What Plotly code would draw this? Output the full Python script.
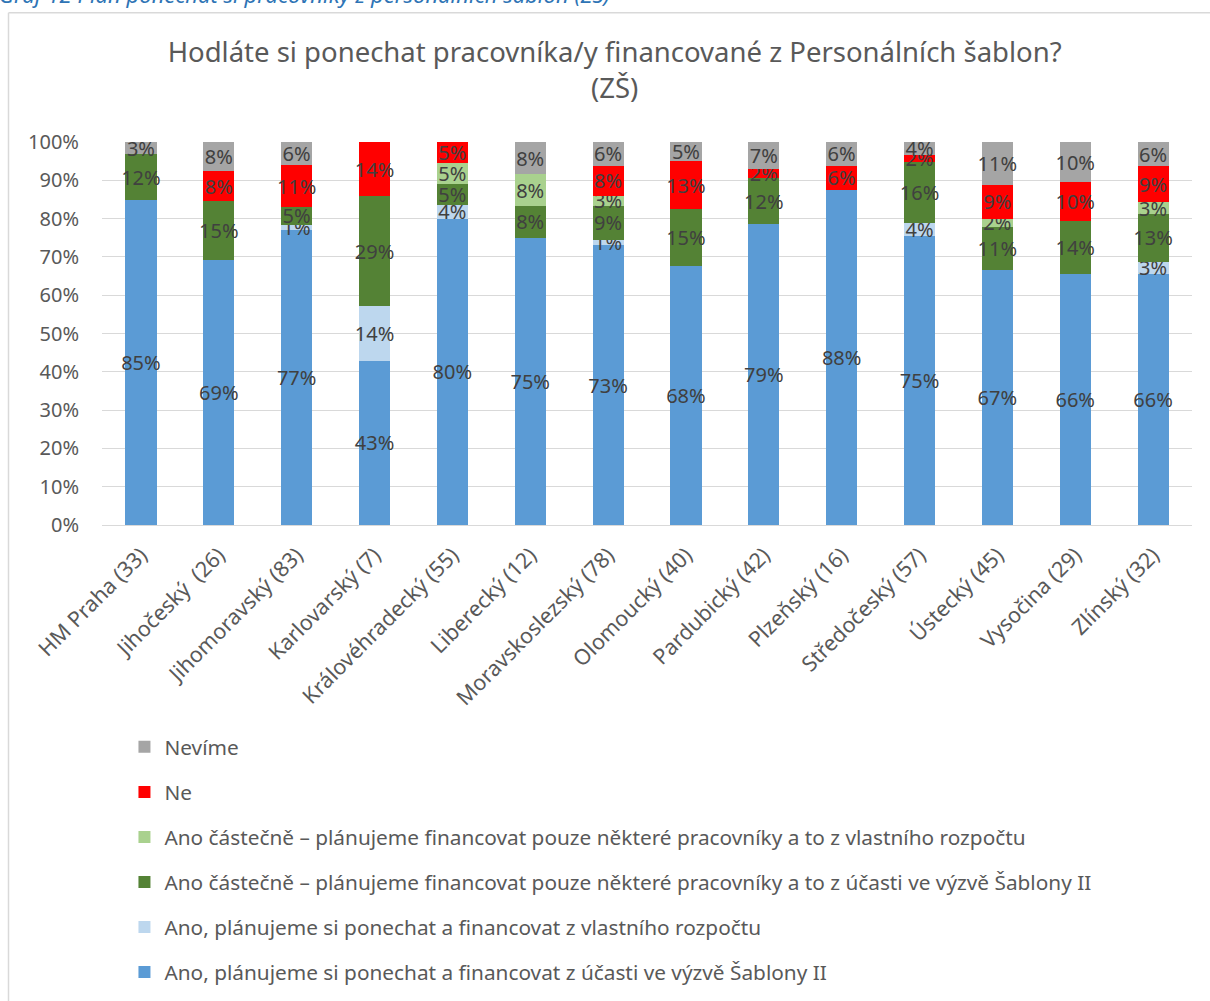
import plotly.graph_objects as go

kraje = ['HM Praha (33)', 'Jihočeský  (26)', 'Jihomoravský (83)', 'Karlovarský (7)',
         'Královéhradecký (55)', 'Liberecký (12)', 'Moravskoslezský (78)', 'Olomoucký (40)',
         'Pardubický (42)', 'Plzeňský (16)', 'Středočeský (57)', 'Ústecký (45)',
         'Vysočina (29)', 'Zlínský (32)']

# podíly v %, None = bez odpovědi
ano_sablony = [84.8, 69.2, 77.1, 42.9, 80.0, 75.0, 73.1, 67.5, 78.6, 87.5, 75.4, 66.7, 65.5, 65.6]
ano_vlastni = [None, None, 1.2, 14.3, 3.6, None, 1.3, None, None, None, 3.5, None, None, 3.1]
cast_sablony = [12.1, 15.4, 4.8, 28.6, 5.45, 8.3, 9.0, 15.0, 11.9, None, 15.8, 11.1, 13.8, 12.5]
cast_vlastni = [None, None, None, None, 5.45, 8.3, 2.6, None, None, None, None, 2.2, None, 3.1]
ne = [None, 7.7, 10.8, 14.3, 5.45, None, 7.7, 12.5, 2.4, 6.25, 1.8, 8.9, 10.3, 9.4]
nevime = [3.0, 7.7, 6.0, None, None, 8.3, 6.4, 5.0, 7.1, 6.25, 3.5, 11.1, 10.3, 6.25]

serie = [
    ('Ano, plánujeme si ponechat a financovat z účasti ve výzvě Šablony II', ano_sablony, '#5b9bd5'),
    ('Ano, plánujeme si ponechat a financovat z vlastního rozpočtu', ano_vlastni, '#bdd7ee'),
    ('Ano částečně – plánujeme financovat pouze některé pracovníky a to z účasti ve výzvě Šablony II', cast_sablony, '#548235'),
    ('Ano částečně – plánujeme financovat pouze některé pracovníky a to z vlastního rozpočtu', cast_vlastni, '#a9d18e'),
    ('Ne', ne, '#ff0000'),
    ('Nevíme', nevime, '#a5a5a5'),
]

font = 'Noto Sans'
fig = go.Figure()
for i, (nazev, hodnoty, barva) in enumerate(serie):
    fig.add_trace(go.Bar(
        x=kraje, y=hodnoty, name=nazev, legendgroup=str(i), legendrank=1000 - i,
        marker=dict(color=barva, line=dict(width=0)),
        texttemplate='%{y:.0f}%', textposition='inside', insidetextanchor='middle',
        constraintext='none', textangle=0,
        textfont=dict(family=font, size=20, color='#404040'),
        hoverinfo='skip',
    ))

fig.update_layout(
    barmode='stack', bargap=0.6,
    width=1210, height=1001,
    margin=dict(l=102, r=18, t=141.5, b=475.5, autoexpand=False),
    paper_bgcolor='white', plot_bgcolor='white',
    font=dict(family=font, color='#595959'),
    uniformtext=dict(minsize=20, mode='show'),
    title=dict(text='Hodláte si ponechat pracovníka/y financované z Personálních šablon?<br>(ZŠ)',
               x=0.508, xanchor='center', yref='container', y=1 - 62 / 1001, yanchor='middle',
               font=dict(size=27.5, color='#595959', family=font)),
    legend=dict(orientation='v', traceorder='grouped', tracegroupgap=15.0,
                x=0.0206, xanchor='left', y=-0.527, yanchor='top',
                font=dict(size=20.8, color='#595959', family=font),
                itemclick=False),
    showlegend=True,
)
fig.update_yaxes(range=[0, 100], tickvals=list(range(0, 101, 10)),
                 ticktext=[f'{v}%' for v in range(0, 101, 10)],
                 showgrid=True, gridcolor='#d9d9d9', gridwidth=1, automargin=False,
                 zeroline=False, showline=False, ticks='', ticklen=0, ticklabelstandoff=22,
                 tickfont=dict(size=20, color='#595959'))
fig.update_xaxes(tickangle=-45, showline=True, linecolor='#d9d9d9', linewidth=1,
                 ticks='', automargin=False, ticklabelstandoff=8,
                 tickfont=dict(size=21.5, color='#595959'))

# rámeček grafu
fig.add_shape(type='line', xref='paper', yref='paper',
              x0=(8.5 - 102) / 1090, x1=(1215 - 102) / 1090,
              y0=(525.5 - 12) / 384, y1=(525.5 - 12) / 384,
              line=dict(color='#d9d9d9', width=1.5))
fig.add_shape(type='line', xref='paper', yref='paper',
              x0=(8.5 - 102) / 1090, x1=(8.5 - 102) / 1090,
              y0=(525.5 - 12) / 384, y1=(525.5 - 1010) / 384,
              line=dict(color='#d9d9d9', width=1.5))

# popisek nad grafem (oříznutý horním okrajem)
fig.add_annotation(text='<i>Graf 12 Plán ponechat si pracovníky z personálních šablon (ZŠ)</i>',
                   xref='paper', yref='paper', showarrow=False,
                   x=(-3 - 102) / 1090, xanchor='left',
                   y=(525.5 - 10) / 384, yanchor='bottom',
                   font=dict(size=22, color='#2e74b5', family=font))

fig.write_html('out.html', config={'displayModeBar': False},
               post_script="document.body.style.margin = '0px';")
